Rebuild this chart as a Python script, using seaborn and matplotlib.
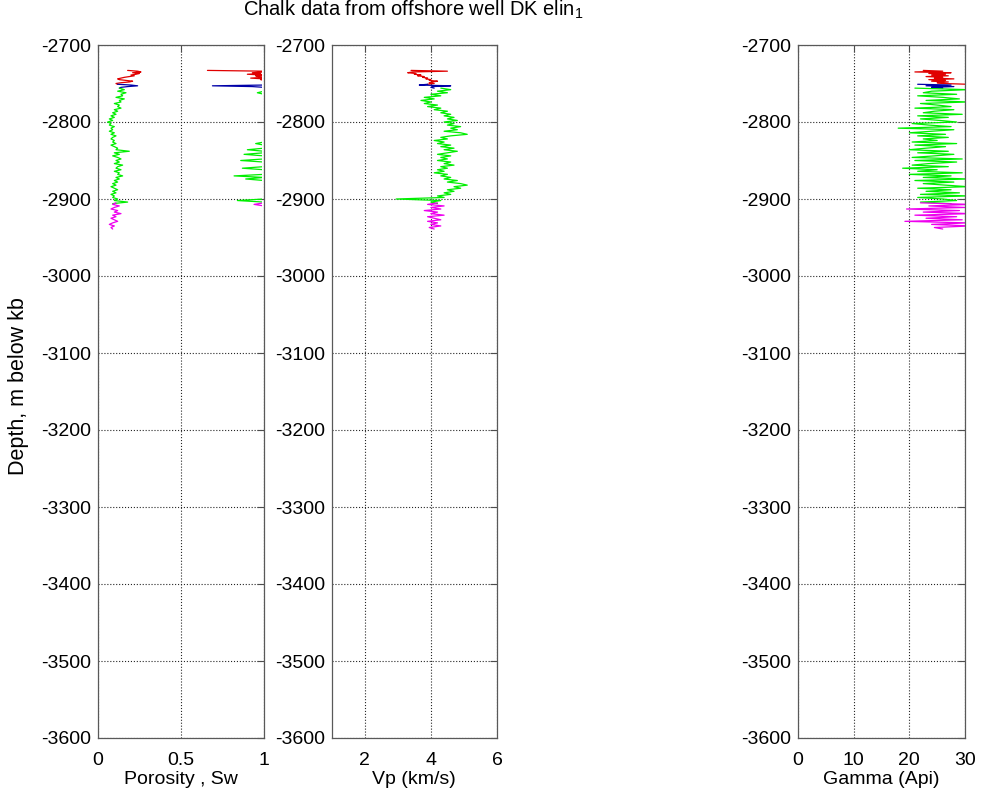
import numpy as np
import pandas as pd
import matplotlib
matplotlib.use("Agg")
import matplotlib.pyplot as plt
from matplotlib.transforms import Bbox, TransformedBbox
import seaborn as sns

# ---------------------------------------------------------------------------
# Well log data, DK elin-1 chalk interval (depth in m below kb, negative down)
# ---------------------------------------------------------------------------
zone_names = ["upper", "transition", "main chalk", "lower"]
zone_colors = ["#e00000", "#0000a8", "#00ee00", "#ee00ee"]
zone_top = [-2733, -2751, -2756, -2905]
zone_base = [-2751, -2756, -2906, -2939]

# porosity (fraction)
phi_upper = [0.18, 0.24, 0.26, 0.21, 0.25, 0.23, 0.20, 0.22, 0.19, 0.16,
             0.14, 0.12, 0.13, 0.17, 0.21, 0.19, 0.14, 0.11, 0.12]
phi_trans = [0.12, 0.20, 0.24, 0.18, 0.14, 0.13]
phi_main = [0.13, 0.16, 0.12, 0.17, 0.14, 0.15, 0.11, 0.16, 0.13, 0.14,
            0.10, 0.13, 0.12, 0.14, 0.10, 0.12, 0.09, 0.11,
            0.08, 0.10, 0.07, 0.09, 0.06, 0.08, 0.07, 0.10, 0.08, 0.09,
            0.07, 0.10, 0.08, 0.11, 0.09, 0.08, 0.10, 0.09, 0.11, 0.08,
            0.10, 0.12, 0.11, 0.19, 0.10, 0.13, 0.09, 0.12, 0.14, 0.11,
            0.13, 0.10, 0.15, 0.12, 0.11, 0.14, 0.10, 0.13, 0.12, 0.15,
            0.11, 0.13, 0.10, 0.12, 0.09, 0.11, 0.08, 0.10, 0.12, 0.09,
            0.11, 0.08, 0.10, 0.09, 0.12, 0.10, 0.18, 0.09]
phi_lower = [0.11, 0.09, 0.13, 0.10, 0.08, 0.12, 0.10, 0.14, 0.09, 0.11,
             0.08, 0.10, 0.12, 0.09, 0.07, 0.10, 0.08, 0.09]

# water saturation (fraction)
sw_upper = [0.66, 1.00, 1.00, 0.93, 0.98, 0.90, 1.00, 0.95, 0.97, 1.00,
            0.92, 1.00, 0.98, 1.00, 1.00, 1.00, 1.00, 1.00, 1.00]
sw_trans = [1.00, 1.00, 0.69, 0.93, 1.00, 1.00]
sw_main = [1.00, 1.00, 1.00, 0.96, 1.00, 1.00, 1.00, 1.00, 1.00, 1.00,
           1.00, 1.00, 1.00, 1.00, 1.00, 1.00, 1.00, 1.00,
           1.00, 1.00, 1.00, 1.00, 1.00, 1.00, 1.00, 1.00, 1.00, 1.00,
           1.00, 1.00, 1.00, 1.00, 1.00, 1.00, 1.00, 1.00, 0.95, 1.00,
           1.00, 1.00, 0.90, 1.00, 1.00, 0.88, 1.00, 1.00, 1.00, 0.86,
           1.00, 1.00, 1.00, 1.00, 0.87, 1.00, 1.00, 1.00, 1.00, 0.82,
           1.00, 0.89, 1.00, 1.00, 1.00, 1.00, 1.00, 1.00, 1.00, 1.00,
           1.00, 1.00, 1.00, 1.00, 1.00, 0.84, 1.00, 1.00]
sw_lower = [1.00, 0.94, 1.00, 1.00, 1.00, 1.00, 1.00, 1.00, 1.00, 1.00,
            1.00, 1.00, 1.00, 1.00, 1.00, 1.00, 1.00, 1.00]

# P-wave velocity (km/s)
vp_upper = [3.40, 4.50, 3.45, 3.30, 3.55, 3.50, 3.70, 3.60, 3.80, 3.75,
            3.90, 3.85, 4.00, 3.95, 4.20, 4.05, 3.95, 4.10, 3.90]
vp_trans = [3.90, 3.65, 4.60, 4.05, 4.00, 4.10]
vp_main = [4.3, 4.6, 4.2, 4.5, 4.0, 4.3, 3.8, 4.1, 3.7, 4.0,
           3.8, 4.2, 3.9, 4.3, 4.1, 4.5, 4.3, 4.6,
           4.4, 4.7, 4.5, 4.8, 4.4, 4.7, 4.5, 4.9, 4.6, 4.8,
           4.4, 4.9, 5.1, 4.6, 4.3, 4.5, 4.1, 4.4, 4.2, 4.6,
           4.3, 4.7, 4.4, 4.8, 4.5, 4.2, 4.6, 4.3, 4.5, 4.2,
           4.6, 4.4, 4.7, 4.3, 4.5, 4.2, 4.4, 4.1, 4.5, 4.3,
           4.6, 4.4, 4.8, 4.5, 4.9, 5.1, 4.7, 4.9, 4.5, 4.7,
           4.4, 4.6, 4.2, 4.4, 2.95, 4.3, 4.0, 4.2]
vp_lower = [4.20, 3.90, 4.40, 4.00, 4.30, 3.80, 4.20, 4.00, 4.40, 3.90,
            4.10, 4.30, 3.90, 4.20, 4.00, 4.30, 3.95, 4.10]

# gamma ray (API)
gr_upper = [22.5, 26.0, 21.0, 27.5, 23.5, 26.5, 24.0, 27.0, 23.0, 26.0,
            24.5, 28.0, 23.5, 26.5, 24.0, 27.0, 25.0, 26.0, 30.5]
gr_trans = [21.5, 27.5, 23.0, 28.0, 24.0, 26.0]
gr_main = [21.0, 30.5, 24.0, 22.5, 28.5, 21.5, 26.0, 29.0, 23.0, 30.5,
           22.0, 25.0, 27.5, 21.0, 28.0, 24.5, 22.5, 29.5, 21.5, 27.0,
           22.0, 25.5, 28.5, 20.5, 23.5, 27.5, 18.0, 28.0, 24.0, 20.0,
           26.5, 21.5, 27.0, 22.5, 25.0, 20.5, 28.5, 21.0, 26.5, 23.0,
           20.0, 27.0, 21.5, 28.0, 24.5, 20.5, 29.5, 21.0, 28.5, 23.5,
           20.5, 27.0, 18.8, 25.0, 21.5, 29.5, 20.0, 27.5, 22.5, 30.5,
           21.0, 28.0, 22.5, 26.5, 30.5, 21.5, 27.5, 23.0, 29.0, 22.0,
           30.5, 21.5, 26.0, 28.5, 22.0, 27.5]
gr_lower = [22.0, 31.0, 23.5, 30.0, 19.5, 29.0, 22.5, 31.0, 21.0, 28.5,
            23.0, 29.5, 19.2, 30.5, 24.0, 31.0, 24.5, 26.0]

depth_ticks = [-2700, -2800, -2900, -3000, -3100, -3200, -3300, -3400, -3500, -3600]
phi_ticks, phi_ticklabels = [0, 0.5, 1], ["0", "0.5", "1"]
vp_ticks, vp_ticklabels = [2, 4, 6], ["2", "4", "6"]
gr_ticks, gr_ticklabels = [0, 10, 20, 30], ["0", "10", "20", "30"]

# ---------------------------------------------------------------------------
# Assemble a long table: one row per sample
# ---------------------------------------------------------------------------
logs = {
    "phi": [phi_upper, phi_trans, phi_main, phi_lower],
    "sw": [sw_upper, sw_trans, sw_main, sw_lower],
    "vp": [vp_upper, vp_trans, vp_main, vp_lower],
    "gr": [gr_upper, gr_trans, gr_main, gr_lower],
}
frames = []
for i, name in enumerate(zone_names):
    n = len(logs["phi"][i])
    depth = np.linspace(zone_top[i], zone_base[i], n)  # evenly sampled log
    frames.append(pd.DataFrame({
        "zone": name, "depth": depth,
        "phi": logs["phi"][i], "sw": logs["sw"][i],
        "vp": logs["vp"][i], "gr": logs["gr"][i],
    }))
df = pd.concat(frames, ignore_index=True)

# ---------------------------------------------------------------------------
# Figure
# ---------------------------------------------------------------------------
sns.set_style("white")
plt.rcParams["font.family"] = ["Liberation Sans", "DejaVu Sans"]
plt.rcParams["mathtext.fontset"] = "custom"
plt.rcParams["mathtext.rm"] = "Liberation Sans"
plt.rcParams["mathtext.it"] = "Liberation Sans:italic"
plt.rcParams["text.color"] = "black"
plt.rcParams["axes.labelcolor"] = "black"
plt.rcParams["xtick.color"] = "black"
plt.rcParams["ytick.color"] = "black"

W, H = 984, 798
fig = plt.figure(figsize=(W / 100, H / 100), dpi=100)
fig.patch.set_facecolor("white")

def px_axes(x0, x1, y0=45, y1=738):
    return fig.add_axes([x0 / W, 1 - y1 / H, (x1 - x0) / W, (y1 - y0) / H])

ax1 = px_axes(97.7, 264.0)
ax2 = px_axes(331.7, 497.0)
ax3 = px_axes(798.0, 965.0)

FS = 14
for ax, cols, xlim, ticks, labels, xlabel in [
    (ax1, ["phi", "sw"], (0, 1), phi_ticks, phi_ticklabels, "Porosity , Sw"),
    (ax2, ["vp"], (1, 6), vp_ticks, vp_ticklabels, "Vp (km/s)"),
    (ax3, ["gr"], (0, 30), gr_ticks, gr_ticklabels, "Gamma (Api)"),
]:
    for col in cols:
        n_before = len(ax.lines)
        for name, color in zip(zone_names, zone_colors):
            sub = df[df["zone"] == name]
            sns.lineplot(data=sub, x=col, y="depth", sort=False, estimator=None,
                         color=color, linewidth=0.9, ax=ax)
        if col == "sw":
            # saturation plateau at 1 sits under the right-hand frame line
            clip = TransformedBbox(Bbox([[0, 0], [1 - 2.0 / 166.3, 1]]), ax.transAxes)
            for ln in ax.lines[n_before:]:
                ln.set_clip_box(clip)
    ax.set_xlim(*xlim)
    ax.set_ylim(-3600, -2700)
    ax.set_xticks(ticks)
    ax.set_xticklabels(labels)
    ax.set_yticks(depth_ticks)
    ax.set_yticklabels([str(t) for t in depth_ticks])
    ax.set_xlabel(xlabel, fontsize=FS, labelpad=1.5, color="black")
    ax.set_ylabel("")
    ax.grid(True, linestyle=":", color="0.15", linewidth=0.8)
    ax.set_axisbelow(True)
    ax.tick_params(direction="in", length=5, width=0.8, color="0.3",
                   labelcolor="black", top=True, right=True, labelsize=FS)
    ax.tick_params(axis="x", pad=10)
    ax.tick_params(axis="y", pad=5)
    for sp in ax.spines.values():
        sp.set_color("0.35")
        sp.set_linewidth(0.9)
        sp.set_visible(True)

fig.text(19 / W, 1 - 386 / H, "Depth, m below kb", rotation=90,
         ha="center", va="center", fontsize=15.5, color="black")
fig.text(413 / W, 1 - 16 / H, r"Chalk data from offshore well DK elin$_\mathrm{1}$",
         ha="center", va="baseline", fontsize=14.5, color="black")

fig.savefig("out.png", dpi=100, facecolor="white")
